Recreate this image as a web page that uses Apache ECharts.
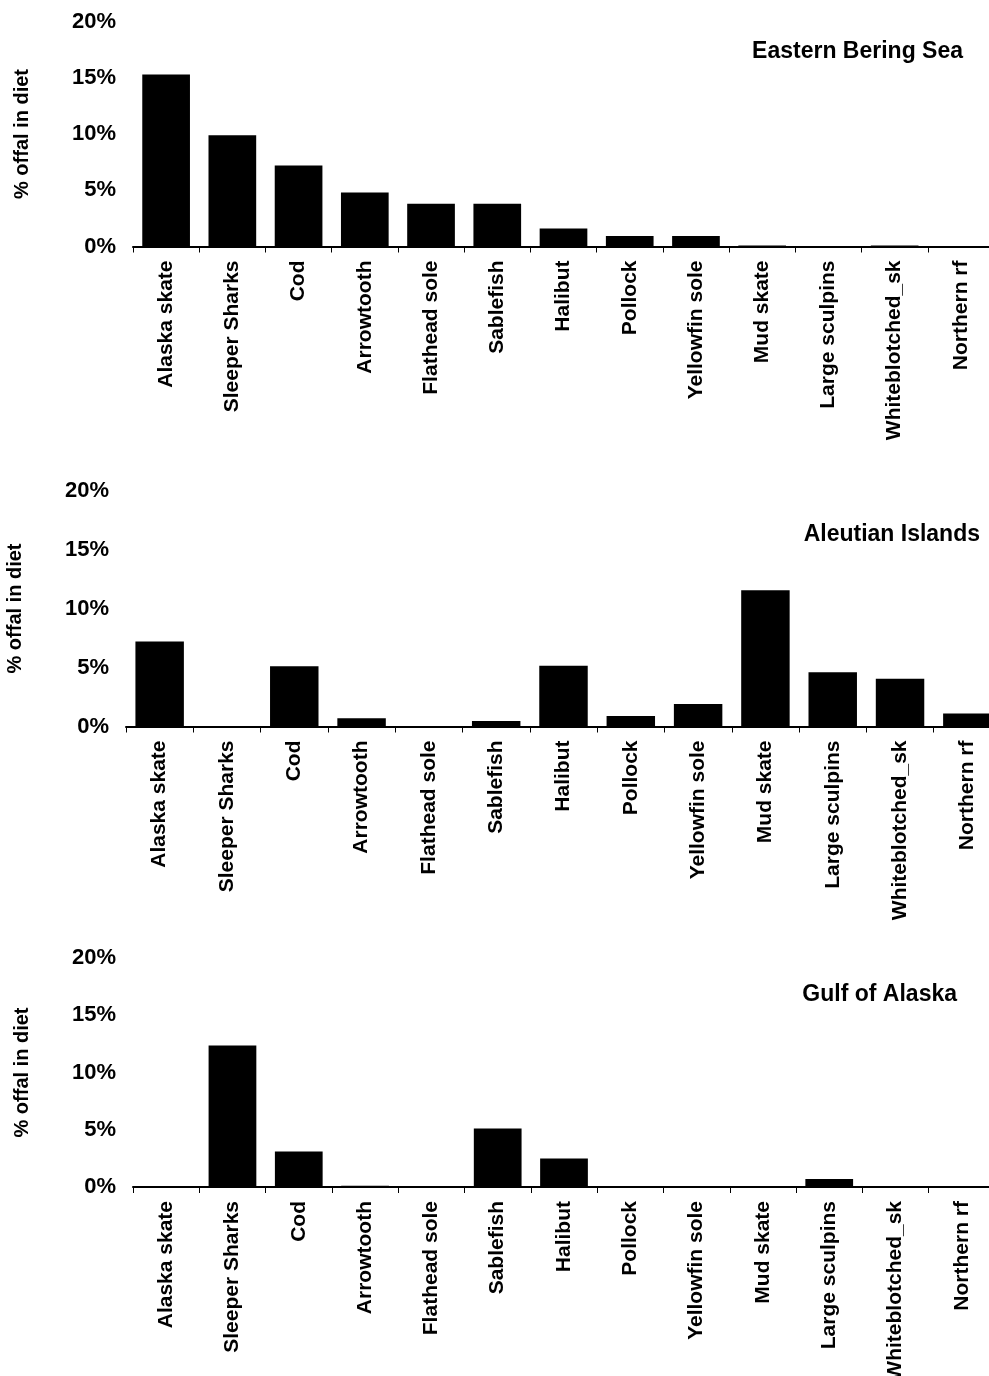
<!DOCTYPE html>
<html>
<head>
<meta charset="utf-8">
<script src="https://cdn.jsdelivr.net/npm/echarts@6/dist/echarts.min.js"></script>
<style>
  html, body { margin: 0; padding: 0; background: #fff; }
  #chart { width: 989px; height: 1376px; }
</style>
</head>
<body>
<div id="chart"></div>
<script>
// Prey-offal share of diet (%) by predator group, three regions
const predators = ['Alaska skate', 'Sleeper Sharks', 'Cod', 'Arrowtooth', 'Flathead sole', 'Sablefish',
  'Halibut', 'Pollock', 'Yellowfin sole', 'Mud skate', 'Large sculpins', 'Whiteblotched_sk', 'Northern rf'];

const easternBeringSea = [15.3, 9.9, 7.2, 4.8, 3.8, 3.8, 1.6, 0.93, 0.93, 0.1, 0, 0.1, 0.05];
const aleutianIslands  = [7.2, 0.05, 5.1, 0.7, 0, 0.47, 5.15, 0.9, 1.9, 11.55, 4.6, 4.05, 1.1];
const gulfOfAlaska     = [0.05, 12.35, 3.1, 0.1, 0, 5.1, 2.5, 0.02, 0, 0, 0.7, 0.03, 0.05];

const regionNames = ['Eastern Bering Sea', 'Aleutian Islands', 'Gulf of Alaska'];
const yTicks = [0, 5, 10, 15, 20];
const yAxisTitle = '% offal in diet';

const FONT = '"Liberation Sans", Arial, Helvetica, sans-serif';

// panel boxes: plot area position/size and where each region heading sits
const panels = [
  { data: easternBeringSea, left: 133, top: 21.5, width: 861, height: 225, titleRight: 26, titleTop: 40 },
  { data: aleutianIslands,  left: 126, top: 490.5, width: 875, height: 236, titleRight: 9, titleTop: 523 },
  { data: gulfOfAlaska,     left: 133, top: 958, width: 862, height: 229, titleRight: 32, titleTop: 983 }
];

const grid = [], xAxis = [], yAxis = [], series = [], title = [];

panels.forEach((p, i) => {
  grid.push({
    left: p.left, top: p.top, width: p.width, height: p.height,
    containLabel: false,
    outerBoundsMode: 'none'
  });
  title.push({
    text: regionNames[i],
    right: p.titleRight,
    top: p.titleTop,
    padding: 0,
    textStyle: { fontFamily: FONT, fontWeight: 'bold', fontSize: 23, color: '#000' }
  });
  xAxis.push({
    type: 'category',
    gridIndex: i,
    data: predators,
    boundaryGap: true,
    axisLine: { show: true, lineStyle: { color: '#000', width: 2 } },
    axisTick: { show: true, length: 6, alignWithLabel: false, interval: 0, lineStyle: { color: '#000', width: 1 } },
    axisLabel: {
      interval: 0,
      rotate: 90,
      margin: 14,
      fontFamily: FONT,
      fontWeight: 'bold',
      fontSize: 21,
      color: '#000'
    },
    splitLine: { show: false }
  });
  yAxis.push({
    type: 'value',
    gridIndex: i,
    min: yTicks[0],
    max: yTicks[yTicks.length - 1],
    interval: yTicks[1] - yTicks[0],
    name: yAxisTitle,
    nameLocation: 'middle',
    nameGap: 101,
    nameTextStyle: { fontFamily: FONT, fontWeight: 'bold', fontSize: 20, color: '#000' },
    axisLine: { show: false },
    axisTick: { show: false },
    splitLine: { show: false },
    axisLabel: {
      margin: 17,
      fontFamily: FONT,
      fontWeight: 'bold',
      fontSize: 22,
      color: '#000',
      formatter: '{value}%'
    }
  });
  series.push({
    type: 'bar',
    xAxisIndex: i,
    yAxisIndex: i,
    data: p.data,
    barCategoryGap: '28%',
    itemStyle: { color: '#000' },
    silent: true
  });
});

const chart = echarts.init(document.getElementById('chart'), null, { renderer: 'canvas' });
chart.setOption({
  backgroundColor: '#fff',
  animation: false,
  title, grid, xAxis, yAxis, series
});
</script>
</body>
</html>
